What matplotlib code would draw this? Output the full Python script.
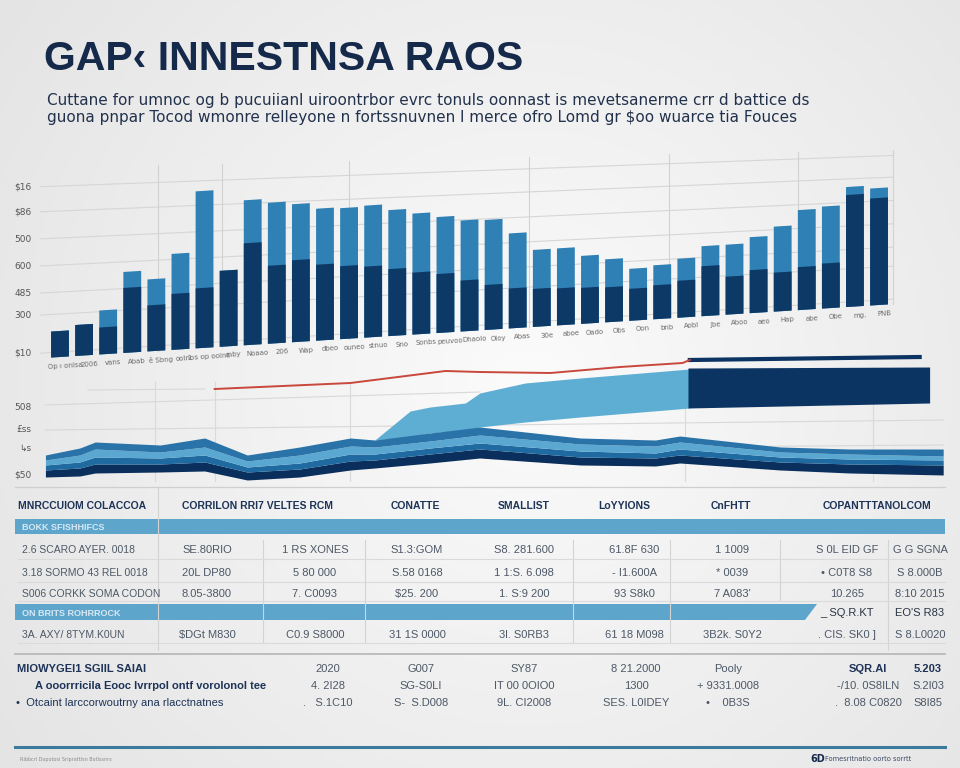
import numpy as np
import matplotlib.pyplot as plt
from matplotlib.transforms import Affine2D
from matplotlib.patches import Rectangle, Polygon
from matplotlib.colors import LinearSegmentedColormap

# ---- texts ----
title = "GAP\u2039 INNESTNSA RAOS"
subtitle = ["Cuttane for umnoc og b pucuiianl uiroontrbor evrc tonuls oonnast is mevetsanerme crr d battice ds",
            "guona pnpar Tocod wmonre relleyone n fortssnuvnen l merce ofro Lomd gr $oo wuarce tia Fouces"]

# ---- bar chart data (two tone bars) ----
bar_labels = ["Op \u0131 onlsa", "2006", "vans", "Abab", "\u00ea Sbng", "oolno", "1 s op oolno", "rnby",
              "Noaao", "206", "Wap", "dbeo", "ouneo", "stnuo", "Sno", "Sonbs", "peuvoo", "Dhaolo",
              "Oloy", "Abas", "30e", "aboe", "Oado", "Obs", "Oon", "bnb", "Aobl", "Jbe", "Aboo",
              "aeo", "Hap", "abe", "Obe", "mg.", "PNB"]
bar_total = [26, 31, 44, 81, 72, 96, 157, 76, 145, 141, 138, 132, 131, 132, 126, 121, 116, 111,
             110, 95, 77, 77, 68, 63, 52, 54, 59, 70, 70, 76, 85, 100, 102, 120, 117]
bar_dark = [26, 31, 27, 65, 46, 56, 60, 76, 102, 78, 82, 76, 73, 71, 67, 62, 59, 51,
            45, 40, 38, 37, 36, 35, 32, 34, 37, 50, 38, 43, 39, 43, 45, 112, 107]
bar_ticks = [5, 43, 65, 92, 119, 146, 171]
bar_ticklabels = ["$10", "300", "485", "600", "500", "$86", "$16"]

# ---- lower band chart data ----
wave_x = [0.6, 4.4, 6.1, 13.3, 18.2, 22.9, 28.7, 34.3, 37.0, 43.1, 48.6, 59.7, 68.0, 70.7, 81.8, 89.5, 99.8]
wave_base = [5, 6, 9, 10, 11, 2, 5, 12, 14, 19, 24, 17, 16, 19, 12, 9, 7]
wave_dark = [7, 8, 9, 8, 9, 8, 8, 9, 8, 9, 9, 8, 8, 8, 8, 9, 10]
wave_mid = [5, 6, 7, 6, 7, 5, 6, 7, 6, 6, 6, 6, 5, 6, 5, 5, 5]
wave_light = [5, 7, 8, 6, 8, 6, 8, 8, 7, 7, 8, 7, 7, 7, 5, 5, 4]
wave_top = [5, 7, 7, 7, 9, 6, 8, 8, 7, 8, 8, 6, 6, 6, 5, 5, 7]

spike_x = [37.0, 40.9, 43.1, 47.0, 48.6, 53.6, 59.7, 71.8]
spike_lo = [42, 45, 49, 52, 55, 60, 65, 74]
spike_hi = [42, 71, 75, 79, 89, 99, 104, 113]

block_x = [71.6, 98.3]
block_lo = [74, 79]
block_hi = [114, 115]

navy_x = [71.8, 97.2]
navy_y = [122, 125]
red_x = [19.3, 34.3, 44.8, 48.6, 56.4, 64.1, 71.0, 71.8]
red_y = [93, 99, 111, 110, 109, 115, 119, 122]

wave_ticks = [8, 35, 53, 76]
wave_ticklabels = ["$50", "\u21b3s", "\u00a3ss", "508"]

# ---- table ----
table_headers = ["MNRCCUIOM COLACCOA", "CORRILON RRI7 VELTES RCM", "CONATTE", "SMALLIST",
                 "LoYYIONS", "CnFHTT", "COPANTTTANOLCOM"]
band_labels = ["BOKK SFISHHIFCS", "ON BRITS ROHRROCK"]
row_names = ["2.6 SCARO AYER. 0018", "3.18 SORMO 43 REL 0018", "S006 CORKK SOMA CODON", "3A. AXY/ 8TYM.K0UN"]
row_cells = [
    ["SE.80RIO", "1 RS XONES", "S1.3:GOM", "S8. 281.600", "61.8F 630", "1 1009", "S 0L EID GF", "G G SGNA"],
    ["20L DP80", "5 80 000", "S.58 0168", "1 1:S. 6.098", "- I1.600A", "* 0039", "\u2022 C0T8 S8", "S 8.000B"],
    ["8.05-3800", "7. C0093", "$25. 200", "1. S:9 200", "93 S8k0", "7 A083'", "10.265", "8:10 2015"],
    ["$DGt M830", "C0.9 S8000", "31 1S 0000", "3l. S0RB3", "61 18 M098", "3B2k. S0Y2", ". CIS. SK0 ]", "S 8.L0020"],
]
band2_cells = ["_ SQ.R.KT", "EO'S R83"]

summary_names = ["MIOWYGEI1 SGIIL SAIAI", "A ooorrricila Eooc Ivrrpol ontf vorolonol tee",
                 "\u2022  Otcaint larccorwoutrny ana rlacctnatnes"]
summary_cells = [
    ["2020", "G007", "SY87", "8 21.2000", "Pooly", "SQR.AI", "5.203"],
    ["4. 2I28", "SG-S0LI", "IT 00 0OIO0", "1300", "+ 9331.0008", "-/10. 0S8ILN", "S.2I03"],
    [".   S.1C10", "S-  S.D008", "9L. CI2008", "SES. L0IDEY", "\u2022    0B3S", ".  8.08 C0820", "S8I85"],
]

NAVY = "#15294a"
GREY = "#4d5866"

fig = plt.figure(figsize=(9.6, 7.68), dpi=100)
fig.patch.set_facecolor("#f1f1f1")


def px_axes(x0, y0, x1, y1):
    return fig.add_axes([x0 / 960, 1 - y1 / 768, (x1 - x0) / 960, (y1 - y0) / 768])


# soft background
bg = px_axes(0, 0, 960, 768)
yy, xx = np.mgrid[0:1:200j, 0:1:250j]
r = np.sqrt((xx - 0.55) ** 2 + ((yy - 0.5) * 0.8) ** 2)
bg.imshow(r, cmap=LinearSegmentedColormap.from_list("bg", ["#fbfbfb", "#e4e4e4"]),
          aspect="auto", extent=[0, 1, 0, 1])
bg.axis("off")

# ---- bar chart, tilted a bit ----
ax = px_axes(40, 150, 900, 362)
ax.set_facecolor("none")
ax.set_xlim(-0.83, 34.87)
ax.set_ylim(-5, 207)
skew = Affine2D(np.array([[1, 0, 0], [1.53, 1, 0], [0, 0, 1]])) + ax.transData
idx = np.arange(len(bar_total))
light = ax.bar(idx, bar_total, width=0.74, color="#2e80b5", zorder=3)
dark = ax.bar(idx, bar_dark, width=0.74, color="#0d3967", zorder=4)
for p in list(light) + list(dark):
    p.set_transform(skew)
for lv in bar_ticks:
    slope = 1.55 - 0.0039 * lv
    ax.plot([-0.83, 34.6], [lv - 0.83 * slope, lv + 34.6 * slope], color="#d6d6d6", lw=0.8, zorder=1)
for xv in [4.07, 6.72, 12.0, 19.47, 25.28, 30.64, 34.58]:
    ax.plot([xv, xv], [1.53 * xv, 190 + 0.5 * xv], color="#d2d2d2", lw=0.8, zorder=1)
for i, lab in enumerate(bar_labels):
    ax.text(i + 0.2, -9, lab, transform=skew, fontsize=5, color="#6a6a6a", ha="center",
            va="center", rotation=3.6, rotation_mode="anchor", clip_on=False)
ax.set_xticks([])
ax.set_yticks(bar_ticks)
ax.set_yticklabels(bar_ticklabels, fontsize=6.5, color="#555555")
ax.tick_params(length=0, pad=6)
for s in ax.spines.values():
    s.set_visible(False)

# ---- lower band chart ----
ax2 = px_axes(40, 350, 945, 482)
ax2.set_facecolor("none")
ax2.set_xlim(0, 100)
ax2.set_ylim(0, 132)
for (x0, x1, y0, y1) in [(5.3, 18.2, 92, 93), (0.6, 48.6, 77, 90), (0.6, 99.8, 52, 62), (70.7, 99.8, 35, 37)]:
    ax2.plot([x0, x1], [y0, y1], color="#d8d8d8", lw=0.8, zorder=1)
for xv in [12.7, 19.3, 34.3, 71.3, 92.0]:
    ax2.plot([xv, xv], [0, 100], color="#dadada", lw=0.8, zorder=1)
ax2.fill_between(spike_x, spike_lo, spike_hi, color="#5eaed4", lw=0, zorder=2)
ax2.fill_between(block_x, block_lo, block_hi, color="#0b3462", lw=0, zorder=2)
ax2.plot(navy_x, navy_y, color="#0b3462", lw=3, zorder=3)
ax2.plot(red_x, red_y, color="#c9473c", lw=1.4, zorder=3)
lo = np.array(wave_base, dtype=float)
for vals, col in [(wave_dark, "#0b2f5c"), (wave_mid, "#1f6aa0"), (wave_light, "#5aa8d2"), (wave_top, "#2a73a8")]:
    hi = lo + np.array(vals)
    ax2.fill_between(wave_x, lo, hi, color=col, lw=0, zorder=4)
    lo = hi
ax2.set_xticks([])
ax2.set_yticks(wave_ticks)
ax2.set_yticklabels(wave_ticklabels, fontsize=6.5, color="#555555")
ax2.tick_params(length=0, pad=6)
for s in ax2.spines.values():
    s.set_visible(False)

# ---- canvas for titles and the table ----
cv = px_axes(0, 0, 960, 768)
cv.set_xlim(0, 960)
cv.set_ylim(768, 0)
cv.axis("off")

cv.text(44, 70, title, fontsize=29.5, fontweight="bold", color=NAVY, family="Liberation Sans", va="baseline")
cv.text(47, 105, subtitle[0], fontsize=11, color="#22324d", family="DejaVu Sans", va="baseline")
cv.text(47, 122, subtitle[1], fontsize=11, color="#22324d", family="DejaVu Sans", va="baseline")

# table frame
cv.plot([15, 945], [487, 487], color="#cfcfcf", lw=0.9)
head_x = [18, 257, 415, 524, 624, 731, 877]
for k, (hx, h) in enumerate(zip(head_x, table_headers)):
    cv.text(hx, 509, h, fontsize=7.5, fontweight="bold", color="#1d3357", family="Liberation Sans",
            ha="left" if k == 0 else "center", va="baseline")
cv.add_patch(Rectangle((15, 519), 930, 15, color="#5ea5cc", lw=0))
cv.text(22, 530, band_labels[0], fontsize=6.5, fontweight="bold", color="#d8e8f3",
        family="Liberation Sans", va="baseline")
cv.add_patch(Polygon([(15, 604), (817, 604), (805, 620), (15, 620)], closed=True, color="#5ea5cc", lw=0))
cv.text(22, 616, band_labels[1], fontsize=6.5, fontweight="bold", color="#d8e8f3",
        family="Liberation Sans", va="baseline")

for xv, y0, y1 in [(158, 487, 650), (263, 540, 642), (365, 540, 642), (573, 540, 642),
                   (670, 540, 642), (780, 540, 600), (888, 540, 650)]:
    cv.plot([xv, xv], [y0, y1], color="#d3d3d3", lw=0.8)
for yv in [559, 582, 601, 643]:
    cv.plot([18, 945], [yv, yv], color="#dadada", lw=0.8)

cell_x = [207, 315, 417, 524, 634, 732, 847, 920]
row_y = [553, 576, 597, 638]
for name, cells, ry in zip(row_names, row_cells, row_y):
    cv.text(22, ry, name, fontsize=7.5, color=GREY, family="Liberation Sans", va="baseline")
    for cx, c in zip(cell_x, cells):
        cv.text(cx, ry, c, fontsize=8, color=GREY, family="Liberation Sans", ha="center", va="baseline")
cv.text(cell_x[6], 616, band2_cells[0], fontsize=8, color="#2a3444", family="Liberation Sans",
        ha="center", va="baseline")
cv.text(cell_x[7], 616, band2_cells[1], fontsize=8, color="#2a3444", family="Liberation Sans",
        ha="center", va="baseline")

# summary block
cv.plot([15, 945], [654, 654], color="#b5b5b5", lw=1.2)
sum_x = [328, 421, 524, 636, 728, 868, 928]
sum_y = [672, 689, 706]
name_x = [17, 35, 16]
for k, (name, cells, sy) in enumerate(zip(summary_names, summary_cells, sum_y)):
    cv.text(name_x[k], sy, name, fontsize=8, fontweight="bold" if k < 2 else "normal",
            color="#1d3357", family="Liberation Sans", va="baseline")
    for j, (cx, c) in enumerate(zip(sum_x, cells)):
        cv.text(cx, sy, c, fontsize=8, color="#1d3357" if (k == 0 and j >= 5) else GREY,
                fontweight="bold" if (k == 0 and j >= 5) else "normal",
                family="Liberation Sans", ha="center", va="baseline")

cv.plot([15, 945], [747, 747], color="#3c7b9c", lw=2.2)
cv.text(20, 761, "Ribbcrl Dopotosi Sriprattlsn Botlssnrs", fontsize=3.5, color="#8a8a8a", va="baseline")
cv.text(810, 762, "6D", fontsize=7, fontweight="bold", color=NAVY, va="baseline")
cv.text(825, 761, "Fomesritnatio oorto sorrtt", fontsize=4.8, color="#3a4a66", va="baseline")

fig.savefig("out.png", dpi=100, facecolor=fig.get_facecolor())
